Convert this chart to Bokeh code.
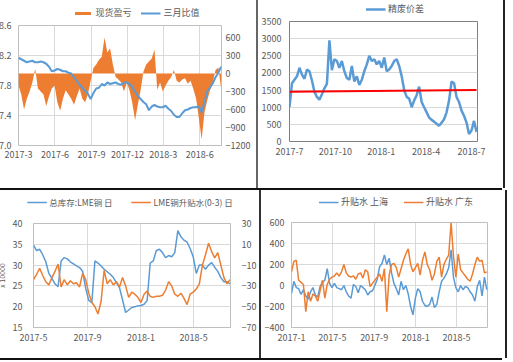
import pandas as pd
from bokeh.plotting import figure
from bokeh.models import (Range1d, LinearAxis, FixedTicker, CustomJSTickFormatter,
                          Legend, LegendItem, Div, Spacer, NumeralTickFormatter)
from bokeh.layouts import row, column
from bokeh.embed import file_html
from bokeh.resources import INLINE

FONT = "Noto Sans CJK SC"
GREY = "#595959"
BLUE = "#5B9BD5"
ORANGE = "#ED7D31"
RED = "#FF0000"
GRID = "#D9D9D9"

# ---------------- data: panel 1 (weekly from 2017-03-01) ----------------
p1_start = "2017-03-01"
p1_ratio = [8.17, 8.15, 8.13, 8.11, 8.12, 8.13, 8.11, 8.11, 8.12, 8.11,
            8.09, 8.05, 7.99, 8.00, 8.02, 8.01, 7.99, 7.99, 7.97, 7.96,
            7.91, 7.86, 7.81, 7.77, 7.73, 7.69, 7.62, 7.70, 7.76, 7.77,
            7.82, 7.80, 7.84, 7.82, 7.83, 7.84, 7.82, 7.81, 7.84, 7.84,
            7.82, 7.78, 7.72, 7.66, 7.62, 7.58, 7.55, 7.47, 7.52, 7.54,
            7.52, 7.51, 7.51, 7.53, 7.49, 7.46, 7.41, 7.38, 7.38, 7.43,
            7.47, 7.48, 7.50, 7.51, 7.51, 7.52, 7.44, 7.58, 7.72, 7.77,
            7.83, 7.91, 7.97, 8.05]
p1_pnl = [-200, -350, -600, -420, -300, -150, 80, -250, -300, -350,
          -540, -380, -250, -200, -480, -620, -420, -280, -350, -420,
          -520, -380, -250, -420, -480, -350, -120, 90, 150, 230,
          280, 600, 350, 420, 150, -60, -100, -150, -300, -150,
          -280, -490, -780, -520, -280, 30, 150, 200, 250, 400,
          -270, -150, -300, -200, -120, -60, 60, -120, -150, -100,
          -80, -170, -120, -260, -420, -750, -1100, -650, -450, -280,
          -150, 60, 100, -250]
p1_xticks = ["2017-03-01", "2017-06-01", "2017-09-01", "2017-12-01", "2018-03-01", "2018-06-01"]
p1_left_ticks = [7.0, 7.4, 7.8, 8.2, 8.6]
p1_right_ticks = [-1200, -900, -600, -300, 0, 300, 600]

# ---------------- data: panel 2 (every 5 days from 2017-07-01) ----------------
p2_start = "2017-07-01"
p2_spread = [1000, 1700, 1800, 1900, 2150, 1950, 1830, 2100, 2050, 1780,
             1450, 1300, 1220, 1380, 1550, 1680, 2950, 2080, 2400, 2350,
             2150, 2350, 2050, 1850, 1800, 2200, 1750, 1900, 1650, 1800,
             2050, 2250, 2500, 2350, 2400, 2250, 2350, 2150, 2450, 2050,
             2100, 2200, 2350, 2400, 2200, 1900, 1500, 1300, 1250, 1000,
             1200, 1350, 1600, 1150, 1000, 850, 700, 630, 580, 520,
             460, 550, 650, 850, 1200, 1750, 1700, 1300, 1150, 900,
             750, 550, 220, 320, 600, 280]
p2_ref_dates = ["2017-07-01", "2018-07-11"]
p2_ref = [1450, 1505]
p2_xticks = ["2017-07-01", "2017-10-01", "2018-01-01", "2018-04-01", "2018-07-01"]
p2_yticks = [0, 500, 1000, 1500, 2000, 2500, 3000, 3500]

# ---------------- data: panel 3 (weekly from 2017-05-01) ----------------
p3_start = "2017-05-01"
p3_stock = [34.8, 33.5, 33.8, 32.5, 30.8, 28.0, 26.8, 25.5, 24.8, 31.0,
            31.8, 31.5, 30.8, 30.3, 29.8, 29.4, 28.5, 24.4, 21.5, 21.0,
            31.0, 30.5, 29.8, 29.0, 28.4, 27.8, 27.0, 25.8, 24.6, 21.6,
            18.6, 19.2, 19.8, 20.0, 20.2, 20.3, 20.6, 21.5, 30.5, 31.0,
            33.5, 33.8, 33.0, 31.8, 32.3, 32.0, 33.0, 38.3, 36.8, 36.0,
            35.5, 34.0, 32.0, 28.0, 30.0, 30.0, 29.0, 30.0, 30.6, 29.5,
            28.5, 27.0, 26.0, 26.0, 25.5]
p3_lme = [-24, -19, -13, -20, -26, -29, -22, -16, -9, -31,
          -24, -29, -25, -28, -27, -31, -18, -24, -37, -46,
          -50, -57, -45, -15, -28, -24, -29, -26, -31, -22,
          -30, -41, -36, -38, -41, -46, -38, -35, -40, -41,
          -40, -40, -39, -34, -26, -30, -38, -40, -37, -42,
          -48, -38, -36, -33, -28, -10, 0, 11, 3, -3,
          2, -10, -22, -28, -24]
p3_xticks = ["2017-05-01", "2017-09-01", "2018-01-01", "2018-05-01"]
p3_left_ticks = [15, 20, 25, 30, 35, 40]
p3_right_ticks = [-70, -50, -30, -10, 10, 30]

# ---------------- data: panel 4 (weekly from 2017-01-01) ----------------
p4_start = "2017-01-01"
p4_sh = [-75, 40, -20, -30, -85, -40, -100, -130, -60, -20,
         -90, -110, -10, 30, 50, 160, 20, -20, 20, -20,
         -30, -40, 0, -60, -100, -120, 10, -10, -70, 0,
         -20, -40, -90, -60, -50, 0, 60, 180, 210, 290,
         200, 260, 120, 20, -30, -90, 40, -40, 0, -80,
         -200, -280, -120, -30, -60, -150, -190, -200, -180, -110,
         -210, -180, -60, 40, 70, 110, 170, 340, 80, -20,
         -60, 0, -40, -10, -20, -60, -90, -150, -10, 50,
         -100, 80, -40]
p4_gd = [130, 230, 240, 50, 30, 10, -250, -60, -150, -80,
         -100, -150, -50, 50, -120, 10, 60, 80, 90, 120,
         90, 130, 200, 120, 90, 80, 90, 60, 110, 120,
         70, 150, 130, -10, 20, 50, 80, 110, 40, 160,
         -250, 100, 200, 210, 170, 80, 160, 240, 300, 350,
         200, 130, 170, 210, 100, 240, 320, 200, 150, 50,
         110, 230, 270, 80, 200, 250, 290, 600, 280, 80,
         300, 150, 120, 90, 60, 40, 110, 200, 270, 230,
         240, 120, 130]
p4_xticks = ["2017-01-01", "2017-05-01", "2017-09-01", "2018-01-01", "2018-05-01"]
p4_yticks = [-400, -200, 0, 200, 400, 600]

DATE_FMT = "const d = new Date(tick); return d.getUTCFullYear() + '-' + (d.getUTCMonth() + 1);"


def ms(s):
    return pd.Timestamp(s).value // 10**6


def style_axis(ax, standoff):
    ax.major_tick_line_color = None
    ax.minor_tick_line_color = None
    ax.major_tick_out = 0
    ax.major_tick_in = 0
    ax.minor_tick_out = 0
    ax.minor_tick_in = 0
    ax.axis_line_color = None
    ax.major_label_text_font = FONT
    ax.major_label_text_font_size = "9px"
    ax.major_label_text_color = GREY
    ax.major_label_standoff = standoff


def make_fig(fw, fh, left, top, right, bottom, x0, x1, y0, y1, xticks, outline="#BFBFBF"):
    p = figure(frame_width=fw, frame_height=fh,
               min_border_left=left, min_border_top=top,
               min_border_right=right, min_border_bottom=bottom,
               x_axis_type="datetime",
               x_range=Range1d(pd.Timestamp(x0), pd.Timestamp(x1)),
               y_range=Range1d(y0, y1),
               output_backend="svg", toolbar_location=None,
               background_fill_color="white", border_fill_color="white",
               outline_line_color=outline)
    p.xaxis.ticker = FixedTicker(ticks=[ms(t) for t in xticks])
    p.xaxis.formatter = CustomJSTickFormatter(code=DATE_FMT)
    for ax in p.axis:
        style_axis(ax, 6)
    p.grid.grid_line_color = GRID
    return p


def legend_strip(w, h):
    s = figure(width=w, height=h, min_border=0, x_range=Range1d(0, 1), y_range=Range1d(0, 1),
               x_axis_type=None, y_axis_type=None, output_backend="svg", toolbar_location=None,
               outline_line_color=None, background_fill_color="white", border_fill_color="white")
    s.grid.visible = False
    return s


def add_legend(strip, items, gap, spacing, h=6, size="9px"):
    lg = Legend(items=[LegendItem(label=l, renderers=[r]) for l, r in items],
                location="bottom_center", orientation="horizontal",
                padding=0, margin=gap, spacing=spacing,
                glyph_width=20, glyph_height=h, label_height=h, label_standoff=3,
                label_text_font=FONT, label_text_font_size=size, label_text_color=GREY,
                background_fill_alpha=0, border_line_alpha=0)
    strip.add_layout(lg, "center")


# legend keys: proxies kept outside the strip's visible range
def key_line(strip, color, width):
    return strip.line(x=[-1], y=[-1], line_color=color, line_width=width)


# ---------------- panel 1 ----------------
s1 = legend_strip(240, 19)
p1 = make_fig(203, 120, 25, 6, 35, 43, "2017-03-01", "2018-07-26", 7.0, 8.6, p1_xticks)
p1_dates = pd.date_range(p1_start, periods=len(p1_ratio), freq="7D")
p1.extra_y_ranges = {"r": Range1d(-1200, 800)}
p1.yaxis.ticker = FixedTicker(ticks=p1_left_ticks)
p1.yaxis.formatter = NumeralTickFormatter(format="0.0")
p1.yaxis.major_label_standoff = 7
p1.xaxis.major_label_standoff = 5
rax1 = LinearAxis(y_range_name="r", ticker=FixedTicker(ticks=p1_right_ticks))
style_axis(rax1, 4)
p1.add_layout(rax1, "right")
p1.varea(x=p1_dates, y1=0, y2=p1_pnl, y_range_name="r", fill_color=ORANGE)
p1.line(x=p1_dates, y=p1_ratio, line_color=BLUE, line_width=2)
k_pnl = s1.varea(x=[-1, -0.5], y1=[-1, -1], y2=[-0.5, -0.5], fill_color=ORANGE)
add_legend(s1, [("现货盈亏", k_pnl), ("三月比值", key_line(s1, BLUE, 2))], 0, 9, h=4)

# ---------------- panel 2 ----------------
s2 = legend_strip(211, 15)
p2 = make_fig(188, 120, 28, 6, 26, 47, "2017-07-01", "2018-07-13", 0, 3500, p2_xticks,
              outline="#808080")
p2.xgrid.grid_line_color = None
p2.yaxis.ticker = FixedTicker(ticks=p2_yticks)
p2.yaxis.major_label_standoff = 8
p2_dates = pd.date_range(p2_start, periods=len(p2_spread), freq="5D")
p2.line(x=p2_dates, y=p2_spread, line_color=BLUE, line_width=2.5)
p2.line(x=pd.to_datetime(p2_ref_dates), y=p2_ref, line_color=RED, line_width=2)
add_legend(s2, [("精废价差", key_line(s2, BLUE, 2.5))], 0, 0)

# ---------------- panel 3 ----------------
s3 = legend_strip(253, 22)
p3 = make_fig(197, 104, 37, 11, 29, 31, "2017-05-01", "2018-07-24", 15, 40, p3_xticks)
p3.extra_y_ranges = {"r": Range1d(-70, 30)}
p3.yaxis.ticker = FixedTicker(ticks=p3_left_ticks)
p3.yaxis.major_label_standoff = 11
p3.yaxis.axis_label = "x 10000"
p3.yaxis.axis_label_text_font = FONT
p3.yaxis.axis_label_text_font_size = "7px"
p3.yaxis.axis_label_text_font_style = "normal"
p3.yaxis.axis_label_text_color = GREY
p3.yaxis.axis_label_standoff = 3
rax3 = LinearAxis(y_range_name="r", ticker=FixedTicker(ticks=p3_right_ticks))
style_axis(rax3, 11)
p3.add_layout(rax3, "right")
p3_dates = pd.date_range(p3_start, periods=len(p3_stock), freq="7D")
p3.line(x=p3_dates, y=p3_stock, line_color=BLUE, line_width=1.5)
p3.line(x=p3_dates, y=p3_lme, y_range_name="r", line_color=ORANGE, line_width=1.5)
add_legend(s3, [("总库存:LME铜 日", key_line(s3, BLUE, 1.5)),
                ("LME铜升贴水(0-3) 日", key_line(s3, ORANGE, 1.5))], 4, 18, size="8.5px")

# ---------------- panel 4 ----------------
s4 = legend_strip(215, 22)
p4 = make_fig(196, 105, 28, 10, 18, 31, "2017-01-01", "2018-07-31", -400, 600, p4_xticks)
p4.yaxis.ticker = FixedTicker(ticks=p4_yticks)
p4.yaxis.major_label_standoff = 7
p4_dates = pd.date_range(p4_start, periods=len(p4_sh), freq="7D")
p4.line(x=p4_dates, y=p4_sh, line_color=BLUE, line_width=1.5)
p4.line(x=p4_dates, y=p4_gd, line_color=ORANGE, line_width=1.5)
add_legend(s4, [("升贴水 上海", key_line(s4, BLUE, 1.5)),
                ("升贴水 广东", key_line(s4, ORANGE, 1.5))], 4, 15)


# ---------------- frame lines ----------------
def bar(w, h, color):
    return Div(text="", width=w, height=h, margin=0,
               styles={"background-color": color})


def panel(strip, lead, main):
    return column(row(Spacer(width=lead, height=strip.height), strip, spacing=0), main, spacing=0)


top = row(bar(1, 188, "#333333"), panel(s1, 23, p1),
          bar(2, 188, "#666666"), panel(s2, 31, p2),
          bar(2, 188, "#222222"), Spacer(width=3, height=188), spacing=0)
bottom = row(bar(1, 168, "#222222"), panel(s3, 10, p3),
             bar(2, 168, "#333333"), panel(s4, 27, p4),
             bar(2, 168, "#222222"), Spacer(width=3, height=168), spacing=0)
layout = column(Spacer(width=510, height=8), top, bar(510, 2, "#111111"), bottom,
                bar(510, 2, "#111111"), spacing=0, margin=(-8, 0, 0, -8))

open("out.html", "w").write(file_html(layout, INLINE))
